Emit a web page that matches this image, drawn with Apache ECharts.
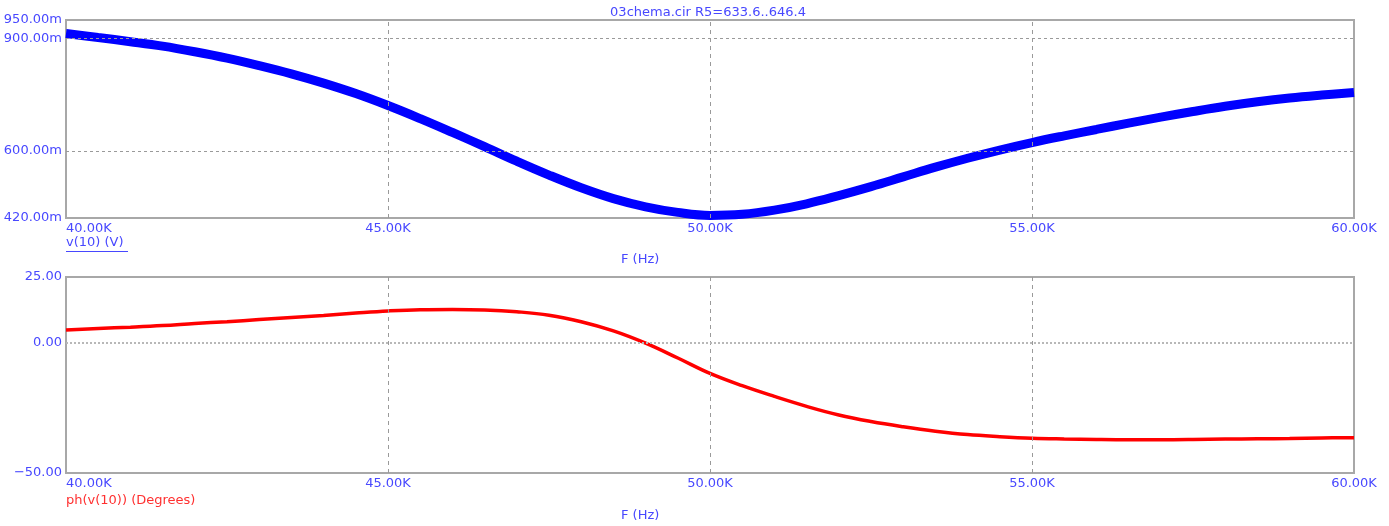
<!DOCTYPE html>
<html>
<head>
<meta charset="utf-8">
<title>03chema.cir AC analysis</title>
<script src="https://cdn.jsdelivr.net/npm/echarts@6/dist/echarts.min.js"></script>
<style>
  html, body { margin: 0; padding: 0; background: #ffffff; }
  #chart { width: 1389px; height: 526px; }
</style>
</head>
<body>
<div id="chart"></div>
<script>
// Frequency sweep points, kHz
const freqK = [40.0, 40.5, 41.0, 41.5, 42.0, 42.5, 43.0, 43.5, 44.0, 44.5,
               45.0, 45.5, 46.0, 46.5, 47.0, 47.5, 48.0, 48.5, 49.0, 49.5,
               50.0, 50.5, 51.0, 51.5, 52.0, 52.5, 53.0, 53.5, 54.0, 54.5,
               55.0, 55.5, 56.0, 56.5, 57.0, 57.5, 58.0, 58.5, 59.0, 59.5, 60.0];

// v(10) magnitude, mV
const magV10 = [914, 903, 892, 880, 865, 848, 828, 806, 781, 753,
                721, 686, 649, 611, 572, 535, 501, 472, 450, 435,
                427, 430, 441, 458, 480, 504, 530, 556, 580, 602,
                622, 640, 657, 674, 690, 705, 719, 731, 741, 749, 756];

// ph(v(10)), degrees
const phaseV10 = [4.7, 5.3, 5.8, 6.4, 7.2, 7.9, 8.7, 9.5, 10.3, 11.2,
                  12.0, 12.5, 12.6, 12.4, 11.7, 10.4, 7.9, 4.4, -0.3, -6.0,
                  -11.9, -16.6, -20.7, -24.5, -27.8, -30.3, -32.3, -34.0, -35.3, -36.1,
                  -36.7, -37.0, -37.2, -37.3, -37.3, -37.2, -37.0, -36.9, -36.8, -36.6, -36.5];

// Axis ticks
const magTicks = [420, 600, 900, 950];
const phaseTicks = [-50, 0, 25];
const freqGrid = [45, 50, 55];
const magGrid = [900, 600];
const phaseGrid = [0];

const plotTitle = '03chema.cir R5=633.6..646.4';
const magLabel = 'v(10) (V)';
const phaseLabel = 'ph(v(10)) (Degrees)';
const freqLabel = 'F (Hz)';

const FONT = 'DejaVu Sans';
const FS = 13;
const AXIS_BLUE = '#4848ff';
const GRID_GREY = '#9a9a9a';

const chart = echarts.init(document.getElementById('chart'), null, { renderer: 'canvas' });

function pairs(xs, ys) { return xs.map((x, i) => [x, ys[i]]); }

function xAxisFor(gridIndex) {
  return {
    type: 'value', gridIndex, min: 40, max: 60, interval: 5,
    axisLine: { show: false }, axisTick: { show: false }, splitLine: { show: false },
    axisLabel: {
      color: AXIS_BLUE, fontFamily: FONT, fontSize: FS, margin: 4,
      alignMinLabel: 'left', alignMaxLabel: 'center',
      formatter: v => v.toFixed(2) + 'K'
    }
  };
}

function gridLines(xAxisIndex, yAxisIndex, hValues, hStyle) {
  return [
    {
      type: 'line', xAxisIndex, yAxisIndex, data: [], z: 1, silent: true,
      markLine: {
        silent: true, symbol: ['none', 'none'], label: { show: false },
        animation: false,
        lineStyle: { color: GRID_GREY, type: [4, 4], width: 1 },
        data: freqGrid.map(v => ({ xAxis: v }))
      }
    },
    {
      type: 'line', xAxisIndex, yAxisIndex, data: [], z: 1, silent: true,
      markLine: {
        silent: true, symbol: ['none', 'none'], label: { show: false },
        animation: false,
        lineStyle: hStyle,
        data: hValues.map(v => ({ yAxis: v }))
      }
    }
  ];
}

const option = {
  backgroundColor: '#ffffff',
  animation: false,
  grid: [
    { left: 66, right: 35, top: 20, height: 198, show: true, borderColor: '#a8a8a8', borderWidth: 2, backgroundColor: '#ffffff' },
    { left: 66, right: 35, top: 277, height: 196, show: true, borderColor: '#a8a8a8', borderWidth: 2, backgroundColor: '#ffffff' }
  ],
  xAxis: [xAxisFor(0), xAxisFor(1)],
  yAxis: [
    {
      type: 'value', gridIndex: 0, min: 420, max: 950,
      axisLine: { show: false }, axisTick: { show: false }, splitLine: { show: false },
      axisLabel: {
        color: AXIS_BLUE, fontFamily: FONT, fontSize: FS, margin: 4,
        customValues: magTicks,
        formatter: v => v.toFixed(2) + 'm'
      }
    },
    {
      type: 'value', gridIndex: 1, min: -50, max: 25,
      axisLine: { show: false }, axisTick: { show: false }, splitLine: { show: false },
      axisLabel: {
        color: AXIS_BLUE, fontFamily: FONT, fontSize: FS, margin: 4,
        customValues: phaseTicks,
        formatter: v => (v < 0 ? '\u2212' + Math.abs(v).toFixed(2) : v.toFixed(2))
      }
    }
  ],
  series: [
    ...gridLines(0, 0, magGrid, { color: GRID_GREY, type: [3, 3], width: 1 }),
    ...gridLines(1, 1, phaseGrid, { color: '#b8b8b8', type: [2, 2], width: 2 }),
    {
      name: magLabel, type: 'line', xAxisIndex: 0, yAxisIndex: 0, z: 3,
      data: pairs(freqK, magV10), showSymbol: false, smooth: 0.4,
      lineStyle: { color: '#0000ff', width: 9 }
    },
    {
      name: phaseLabel, type: 'line', xAxisIndex: 1, yAxisIndex: 1, z: 3,
      data: pairs(freqK, phaseV10), showSymbol: false, smooth: 0.4,
      lineStyle: { color: '#ff0000', width: 3.5 }
    }
  ],
  graphic: [
    { type: 'text', x: 708, y: 6, style: { text: plotTitle, fill: AXIS_BLUE, font: FS + 'px ' + FONT, align: 'center', verticalAlign: 'top' } },
    { type: 'text', x: 66, y: 236, style: { text: magLabel, fill: AXIS_BLUE, font: FS + 'px ' + FONT, verticalAlign: 'top' } },
    { type: 'line', shape: { x1: 66, y1: 251.5, x2: 128, y2: 251.5 }, style: { stroke: AXIS_BLUE, lineWidth: 1 } },
    { type: 'text', x: 621, y: 253, style: { text: freqLabel, fill: AXIS_BLUE, font: FS + 'px ' + FONT, verticalAlign: 'top' } },
    { type: 'text', x: 66, y: 494, style: { text: phaseLabel, fill: '#ff3030', font: FS + 'px ' + FONT, verticalAlign: 'top' } },
    { type: 'text', x: 621, y: 509, style: { text: freqLabel, fill: AXIS_BLUE, font: FS + 'px ' + FONT, verticalAlign: 'top' } }
  ]
};

chart.setOption(option);
</script>
</body>
</html>
